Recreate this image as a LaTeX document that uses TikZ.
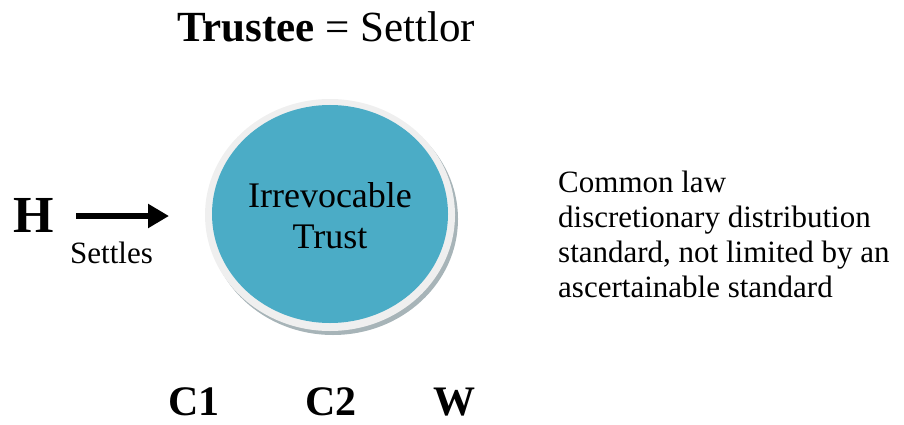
\documentclass[tikz,border=0pt]{standalone}
\usepackage{fontspec}
\setmainfont{Liberation Serif}
\usetikzlibrary{arrows.meta}

\definecolor{trustblue}{HTML}{4BACC6}
\definecolor{ringgrey}{HTML}{EFEFEF}
\definecolor{shadowgrey}{HTML}{A7B4B8}

\begin{document}
\begin{tikzpicture}[
    x=1pt, y=-1pt,
    big bold/.style={inner sep=0pt, text depth=0pt, font=\fontsize{42}{48}\selectfont\bfseries},
    note/.style={inner sep=0pt, align=left, font=\fontsize{31}{35}\selectfont},
    settles/.style={line width=6pt, -{Triangle[length=21pt, width=23pt]}}
]
\useasboundingbox (0,0) rectangle (904,425);

% Titel oben
\node[inner sep=0pt, anchor=base west, font=\fontsize{43}{48}\selectfont] (title) at (177,42)
    {\textbf{Trustee} = Settlor};

% Trust (Kreis mit Rand und Schatten)
\fill[shadowgrey] (333,219) ellipse [x radius=125, y radius=116];
\fill[ringgrey] (330,215) ellipse [x radius=125, y radius=116];
\fill[trustblue] (330,214) ellipse [x radius=118, y radius=109];
\node[inner sep=0pt, align=center, font=\fontsize{36}{41}\selectfont] (trust) at (330,216)
    {Irrevocable\\Trust};

% Settlor H
\node[inner sep=0pt, anchor=base, font=\fontsize{52}{56}\selectfont\bfseries] (h) at (34,232) {H};
\coordinate (trust in) at (169,216);
\draw[settles, shorten <=22pt] (h.east |- trust in) -- (trust in);
\node[inner sep=0pt, anchor=base west, font=\fontsize{31}{35}\selectfont] (settles) at (70,263) {Settles};

% Standard rechts (Anker auf der letzten Zeile)
\node[note, anchor=base west] (std) at (558,297)
    {Common law\\discretionary distribution\\standard, not limited by an\\ascertainable standard};

% Begünstigte
\node[big bold, anchor=base west] (c1) at (168,415) {C1};
\node[big bold, anchor=base west] (c2) at (305,415) {C2};
\node[big bold, anchor=base west] (w)  at (433,415) {W};

\end{tikzpicture}
\end{document}
